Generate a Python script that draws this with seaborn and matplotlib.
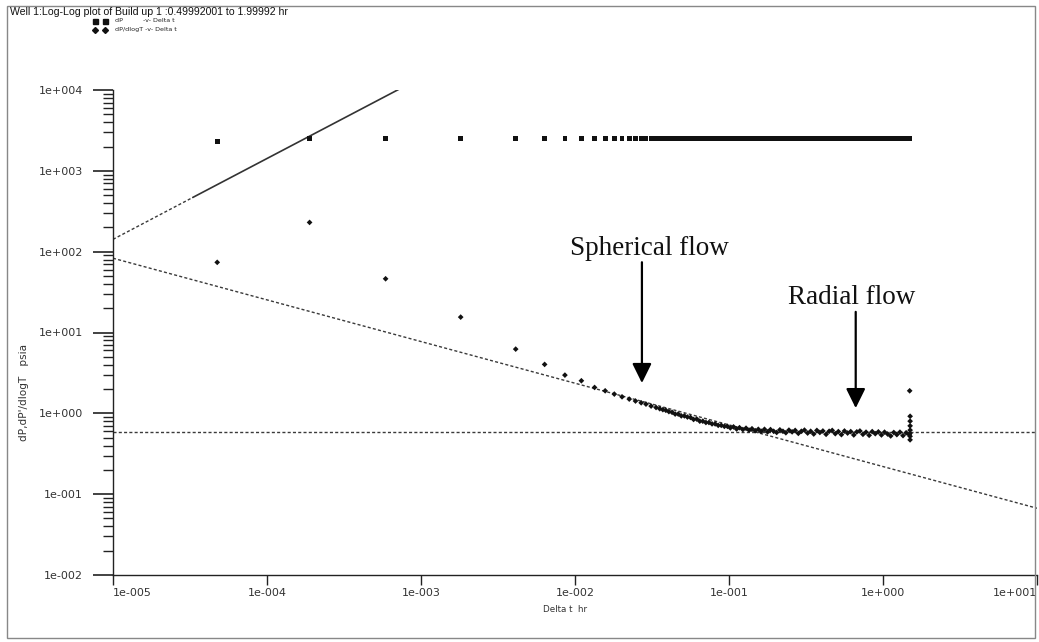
import matplotlib
matplotlib.use("Agg")
import matplotlib.pyplot as plt
import matplotlib.ticker as mticker
from matplotlib.lines import Line2D
from matplotlib.patches import Rectangle
import numpy as np
import pandas as pd
import seaborn as sns

# ---- data -------------------------------------------------------------
# early, sparsely sampled part of the build-up (time hr, dP psia, dP' psia)
early_time = [4.75e-5, 1.89e-4, 5.89e-4, 1.81e-3, 4.12e-3, 6.35e-3, 8.6e-3,
              0.0110, 0.0134, 0.0157, 0.0180, 0.0202, 0.0225, 0.0247, 0.0269,
              0.0289, 0.0312, 0.0336]
early_dp = [2290, 2495, 2505, 2500, 2500, 2501, 2500,
            2500, 2499, 2500, 2501, 2500, 2500, 2499, 2500,
            2500, 2501, 2500]
early_deriv = [73.8, 230, 46.2, 15.5, 6.23, 4.03, 2.97,
               2.53, 2.09, 1.90, 1.73, 1.60, 1.50, 1.42, 1.35,
               1.30, 1.23, 1.18]

# densely sampled remainder of the build-up
late_time = [0.0355, 0.0372, 0.0389, 0.0407, 0.0427, 0.0447, 0.0468, 0.0490,
             0.0513, 0.0537, 0.0562, 0.0589, 0.0617, 0.0646, 0.0676, 0.0708,
             0.0741, 0.0776, 0.0813, 0.0851, 0.0891, 0.0933, 0.0977, 0.102,
             0.107, 0.112, 0.117, 0.123, 0.129, 0.135, 0.141, 0.148, 0.155,
             0.162, 0.170, 0.178, 0.186, 0.195, 0.204, 0.214, 0.224, 0.234,
             0.245, 0.257, 0.269, 0.282, 0.295, 0.309, 0.324, 0.339, 0.355,
             0.372, 0.389, 0.407, 0.427, 0.447, 0.468, 0.490, 0.513, 0.537,
             0.562, 0.589, 0.617, 0.646, 0.676, 0.708, 0.741, 0.776, 0.813,
             0.851, 0.891, 0.933, 0.977, 1.023, 1.072, 1.122, 1.175, 1.230,
             1.288, 1.349, 1.413, 1.479, 1.496]
late_dp = [2500, 2499, 2500, 2500, 2501, 2500, 2499, 2500,
           2500, 2500, 2501, 2500, 2499, 2500, 2500, 2500,
           2501, 2500, 2499, 2500, 2500, 2500, 2501, 2500,
           2499, 2500, 2500, 2500, 2501, 2500, 2499, 2500, 2500,
           2500, 2501, 2500, 2499, 2500, 2500, 2500, 2501, 2500,
           2499, 2500, 2500, 2500, 2501, 2500, 2499, 2500, 2500,
           2500, 2501, 2500, 2499, 2500, 2500, 2500, 2501, 2500,
           2499, 2500, 2500, 2500, 2501, 2500, 2499, 2500, 2500,
           2500, 2501, 2500, 2499, 2500, 2500, 2500, 2501, 2500,
           2499, 2500, 2500, 2500, 2500]
late_deriv = [1.14, 1.11, 1.09, 1.05, 1.03, 0.98, 0.98, 0.93,
              0.93, 0.90, 0.89, 0.84, 0.85, 0.80, 0.80, 0.77,
              0.77, 0.74, 0.74, 0.71, 0.71, 0.69, 0.69, 0.66,
              0.68, 0.64, 0.665, 0.63, 0.655, 0.62, 0.645, 0.61, 0.635,
              0.60, 0.635, 0.59, 0.63, 0.60, 0.58, 0.625, 0.60, 0.575,
              0.62, 0.59, 0.615, 0.565, 0.60, 0.62, 0.57, 0.60, 0.555,
              0.615, 0.58, 0.605, 0.55, 0.60, 0.615, 0.56, 0.595, 0.545,
              0.605, 0.57, 0.595, 0.54, 0.59, 0.605, 0.55, 0.585, 0.535,
              0.595, 0.56, 0.59, 0.54, 0.585, 0.555, 0.525, 0.58, 0.545,
              0.585, 0.53, 0.575, 0.545, 0.565]

# last few derivative samples at the end of the test
end_time = [1.499, 1.499, 1.500, 1.500, 1.500, 1.500, 1.490]
end_deriv = [0.47, 0.52, 0.62, 0.70, 0.80, 0.92, 1.90]

# straight-line flow-regime guides: (time hr, psia) end points
storage_dotted_t = [1e-5, 3.3e-5]
storage_dotted_p = [142, 469]
storage_solid_t = [3.3e-5, 1.0e-3]
storage_solid_p = [469, 14200]
spherical_t = [1e-5, 10]
spherical_p = [83, 0.067]
radial_t = [1e-5, 10]
radial_p = [0.58, 0.58]

x_decades = [-5, -4, -3, -2, -1, 0, 1]
y_decades = [-2, -1, 0, 1, 2, 3, 4]

# ---- figure -----------------------------------------------------------
W, H = 1039, 642
sns.set_style("white")
plt.rcParams["font.family"] = ["DejaVu Sans"]

fig = plt.figure(figsize=(W / 100, H / 100), dpi=100)
fig.patch.set_facecolor("white")

x0, x1, ytop, ybot = 113, 1037, 90, 575
ax = fig.add_axes([x0 / W, (H - ybot) / H, (x1 - x0) / W, (ybot - ytop) / H])
ax.set_xscale("log")
ax.set_yscale("log")
ax.set_xlim(1e-5, 1e1)
ax.set_ylim(1e-2, 1e4)

guide_color = "#3a3a3a"
dots = (0, (2.2, 1.6))
ax.plot(storage_dotted_t, storage_dotted_p, color=guide_color, lw=1.0, ls=dots)
ax.plot(storage_solid_t, storage_solid_p, color="#333333", lw=1.2, ls="-")
ax.plot(spherical_t, spherical_p, color=guide_color, lw=1.0, ls=dots)
ax.plot(radial_t, radial_p, color=guide_color, lw=1.0, ls=dots)

dp_df = pd.DataFrame({"t": early_time + late_time, "p": early_dp + late_dp})
der_df = pd.DataFrame({"t": early_time + late_time + end_time,
                       "p": early_deriv + late_deriv + end_deriv})
sns.scatterplot(data=dp_df, x="t", y="p", marker="s", s=12, color="#111111",
                edgecolor="none", linewidth=0, ax=ax, zorder=3)
sns.scatterplot(data=der_df, x="t", y="p", marker="D", s=8.5, color="#111111",
                edgecolor="none", linewidth=0, ax=ax, zorder=3)

# axes styling
for side in ("top", "right"):
    ax.spines[side].set_visible(False)
for side in ("left", "bottom"):
    ax.spines[side].set_color("#222222")
    ax.spines[side].set_linewidth(1.0)

ax.xaxis.set_major_locator(mticker.FixedLocator([10.0 ** e for e in x_decades]))
ax.xaxis.set_minor_locator(mticker.NullLocator())
ax.yaxis.set_major_locator(mticker.FixedLocator([10.0 ** e for e in y_decades]))
ax.yaxis.set_minor_locator(mticker.LogLocator(base=10, subs=np.arange(2, 10)))
ax.yaxis.set_minor_formatter(mticker.NullFormatter())


def sci_label(v, _pos):
    e = int(round(np.log10(v)))
    return f"1e{e:+04d}"


ax.xaxis.set_major_formatter(mticker.FuncFormatter(sci_label))
ax.yaxis.set_major_formatter(mticker.FuncFormatter(sci_label))
ax.tick_params(axis="both", which="both", left=True, bottom=True, top=False,
               right=False)
ax.tick_params(axis="y", which="major", direction="out", length=14.5, width=1.2,
               color="#222222", pad=7, labelsize=8, labelcolor="#333333")
ax.tick_params(axis="y", which="minor", direction="out", length=7, width=1.0,
               color="#222222")
ax.tick_params(axis="x", which="major", direction="out", length=7.5, width=1.0,
               color="#222222", pad=2, labelsize=8, labelcolor="#333333")
ax.set_xlabel("")
ax.set_ylabel("")
ax.grid(False)
ax.set_facecolor("white")

fig.canvas.draw()
xlabels = ax.get_xticklabels()
xlabels[0].set_horizontalalignment("left")
xlabels[-1].set_horizontalalignment("right")

# flow-regime annotations
arrow_kw = dict(arrowstyle="-|>,head_length=0.85,head_width=0.42", color="black",
                lw=1.6, shrinkA=0, shrinkB=0, mutation_scale=14)
ax.annotate("", xy=(0.0272, 2.37), xytext=(0.0272, 74), arrowprops=arrow_kw)
ax.annotate("", xy=(0.665, 1.16), xytext=(0.665, 18), arrowprops=arrow_kw)
ax.text(0.0304, 108, "Spherical flow", family="Liberation Serif", fontsize=19.5,
        ha="center", va="center", color="#111111")
ax.text(0.629, 27.4, "Radial flow", family="Liberation Serif", fontsize=19.5,
        ha="center", va="center", color="#111111")

# header, legend key and axis titles
fig.text(10 / W, 1 - 12 / H, "Well 1:Log-Log plot of Build up 1 :0.49992001 to 1.99992 hr",
         family="Liberation Sans", fontsize=7.6, ha="left", va="center", color="#111111")
leg_rows = [(21, "s", "dP          -v- Delta t"), (30, "D", "dP/dlogT -v- Delta t")]
for yy, mk, txt in leg_rows:
    for xx in (94.5, 104.5):
        fig.lines.append(Line2D([xx / W], [1 - yy / H], marker=mk,
                                ms=3.6 if mk == "s" else 3.0,
                                color="#111111", ls="none",
                                transform=fig.transFigure))
    fig.text(115 / W, 1 - yy / H, txt, fontsize=4.6, ha="left", va="center",
             color="#222222")

fig.text(565 / W, 1 - 609 / H, "Delta t  hr", fontsize=6.3, ha="center", va="center",
         color="#333333")
fig.text(24 / W, 1 - 392 / H, "dP,dP'/dlogT   psia", fontsize=7.6, ha="center",
         va="center", rotation=90, color="#333333")

# outer frame
fig.patches.append(Rectangle((7 / W, 1 - 638 / H), (1035 - 7) / W, (638 - 6) / H,
                             transform=fig.transFigure, fill=False,
                             edgecolor="#888888", lw=1.0))

fig.savefig("out.png", dpi=100, facecolor="white")
